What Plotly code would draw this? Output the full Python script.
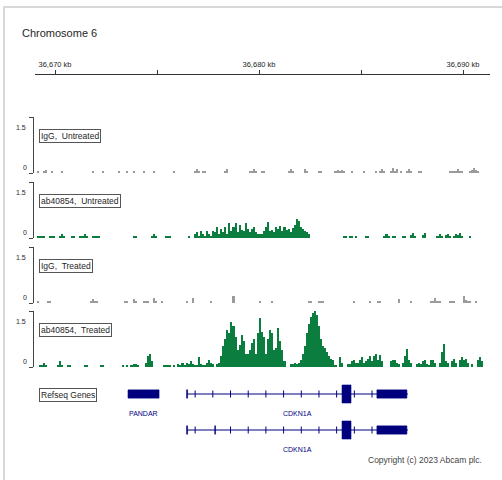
import numpy as np
import plotly.graph_objects as go

# ---------------- data ----------------
CHROM_TITLE = "Chromosome 6"
RULER_TICKS_KB = [36670, 36675, 36680, 36685, 36690]
RULER_LABELS = ["36,670 kb", "", "36,680 kb", "", "36,690 kb"]

TRACK_NAMES = ["IgG,\u00a0 Untreated", "ab40854,\u00a0 Untreated", "IgG,\u00a0 Treated", "ab40854,\u00a0 Treated"]
TRACK_MAX = 1.5
BIN_KB = 0.1  # coverage bin size (kb)

# coverage runs: start of run (kb) and per-bin values
IGG_UNTR_STARTS = [36669.1, 36669.4, 36669.8, 36670.3, 36671.8, 36672.3, 36673.1, 36673.5, 36673.8,
                   36674.3, 36674.8, 36675.8, 36676.8, 36677.2, 36678.3, 36679.5, 36680.1, 36681.4,
                   36682.2, 36682.9, 36683.7, 36684.5, 36685.1, 36685.7, 36685.9, 36686.4, 36686.9,
                   36687.2, 36687.8, 36689.3, 36689.6, 36689.9, 36690.3]
IGG_UNTR_VALS = [[0.05], [0.05, 0.08], [0.05], [0.05], [0.05], [0.05], [0.05], [0.05], [0.05],
                 [0.05], [0.05], [0.05], [0.05, 0.1, 0.05], [0.05, 0.05], [0.05, 0.11], [0.05, 0.06, 0.1, 0.05],
                 [0.05, 0.05], [0.05, 0.11, 0.05], [0.11, 0.05], [0.05, 0.05], [0.05, 0.08, 0.05, 0.08, 0.05],
                 [0.05], [0.05], [0.05], [0.05, 0.1, 0.05], [0.05, 0.13, 0.05, 0.1], [0.05],
                 [0.05, 0.1, 0.05], [0.05, 0.05], [0.05, 0.05, 0.05], [0.05, 0.1, 0.05],
                 [0.05], [0.05, 0.08, 0.13, 0.08, 0.05]]

AB_UNTR_STARTS = [36669.1, 36669.7, 36670.2, 36670.8, 36671.2, 36671.8, 36673.8, 36674.7, 36675.4,
                  36676.5, 36676.8, 36681.2, 36684.1, 36685.2, 36686.1, 36686.5, 36687.0, 36687.4,
                  36688.0, 36688.7, 36689.5, 36690.3]
AB_UNTR_VALS = [[0.06, 0.06, 0.06, 0.06], [0.06, 0.06, 0.06], [0.06, 0.12, 0.06], [0.06, 0.06],
                [0.06, 0.06, 0.12, 0.06], [0.06, 0.06, 0.06, 0.06], [0.06, 0.06], [0.05, 0.12, 0.05],
                [0.06, 0.06, 0.06], [0.06],
                [0.1, 0.15, 0.06, 0.2, 0.12, 0.06, 0.2, 0.1, 0.06, 0.2,
                 0.15, 0.3, 0.12, 0.25, 0.15, 0.3, 0.12,
                 0.4, 0.2, 0.3, 0.4, 0.15, 0.35, 0.22, 0.2, 0.4, 0.25, 0.15,
                 0.25, 0.3, 0.15, 0.1, 0.12, 0.1, 0.2, 0.3, 0.43, 0.2, 0.22, 0.15,
                 0.3, 0.25, 0.32, 0.2, 0.3, 0.12, 0.1,
                 0.08, 0.06, 0.08, 0.08, 0.06, 0.08],
                [0, 0.22, 0.25, 0.15, 0.28, 0.35, 0.5, 0.45, 0.3, 0.25, 0.2, 0.15, 0.12],
                [0.06, 0.06, 0, 0.06, 0.06, 0, 0.06], [0.06, 0.06], [0.06, 0.11, 0.06],
                [0.06, 0.06], [0.06, 0.06], [0.08, 0.13, 0.06], [0.08, 0.13],
                [0.06, 0.1, 0.06, 0, 0.08, 0.12, 0.06], [0.06, 0.12, 0.08, 0.13, 0.06], [0.06]]

IGG_TR_STARTS = [36669.1, 36669.6, 36671.7, 36673.4, 36673.8, 36674.3, 36674.8, 36675.2, 36676.4,
                 36676.7, 36677.6, 36678.7, 36680.0, 36680.6, 36682.4, 36682.9, 36684.6, 36685.4,
                 36685.8, 36686.8, 36687.4, 36688.4, 36689.3, 36690.0, 36690.6]
IGG_TR_VALS = [[0.05], [0.05, 0.05], [0.05, 0.1, 0.05, 0.05], [0.05, 0.05], [0.11, 0.05],
               [0.05, 0.05, 0.05], [0.13, 0.05], [0.05], [0.05], [0.13], [0.05], [0.18], [0.05],
               [0.05], [0.05, 0.05], [0.05, 0.05, 0.05], [0.05], [0.05], [0.05, 0.05], [0.11],
               [0.05], [0.05, 0.05, 0.13, 0.05, 0.05], [0.05, 0.05, 0.05], [0.2, 0.08, 0.05, 0.05],
               [0.05]]

AB_TR_STARTS = [36669.2, 36670.1, 36670.6, 36671.4, 36672.2, 36673.3, 36674.4, 36675.3, 36675.8,
                36678.1, 36681.5, 36684.3, 36686.4, 36687.0, 36687.7, 36688.8, 36689.4, 36689.8,
                36690.4, 36690.7]
AB_TR_VALS = [[0.05, 0.05, 0.11, 0.05], [0.05, 0.16, 0.05], [0.06, 0.06], [0.05, 0.05], [0.05, 0.05],
              [0.05, 0, 0.05, 0, 0.06, 0.08, 0.08, 0.06], [0.1, 0.3, 0.35, 0.15],
              [0.06, 0.06, 0.06, 0.05],
              [0.05, 0, 0.08, 0.05, 0.1, 0.05, 0.12, 0.08, 0.15, 0.08, 0.06, 0.05, 0.27, 0.08, 0.05,
               0.05, 0.12, 0.18, 0.1, 0.08, 0, 0.08, 0.1],
              [0.3, 0.55, 0.75, 1.0, 0.9, 1.2, 1.1, 0.8, 0.45, 0.6, 0.85, 0.7, 0.35, 0.35, 0.45, 0.65,
               0.75, 0.35, 0.9, 1.3, 0.95, 0.8, 0.35, 0.75, 1.0, 0.9, 0.45, 0.5, 1.05, 0.7, 0.45, 0.15],
              [0.08, 0.08, 0.1, 0.08, 0.12, 0.2, 0.35, 0.55, 0.9, 1.15, 1.35, 1.45, 1.5, 1.4, 1.1,
               0.75, 0.55, 0.5, 0.4, 0.3, 0.22, 0.2, 0.05, 0, 0.27, 0.12],
              [0.08, 0.08, 0.15, 0.18, 0.1, 0.1, 0.2, 0.28, 0.12, 0.15, 0.22, 0.3, 0.15, 0.3, 0.35,
               0.2, 0.32, 0.15],
              [0.15, 0.2, 0.18, 0.1, 0.08], [0.12, 0.3, 0.48, 0.2, 0.12],
              [0.08, 0.1, 0.08, 0.15, 0.18, 0.08, 0.05, 0.18, 0.2, 0.1],
              [0.12, 0.4, 0.62, 0.15, 0.12], [0.15, 0.22, 0.1], [0.2, 0.28, 0.18, 0.22, 0.12],
              [0.08], [0.18, 0.28, 0.15]]

# Refseq genes (kb)
GENE_NAMES = ["PANDAR", "CDKN1A", "CDKN1A"]
GENE_ROW = [0, 0, 1]
GENE_START = [36673.58, 36676.47, 36676.47]
GENE_END = [36675.10, 36687.30, 36687.30]
GENE_CODING = [[], [(36684.07, 36684.51)], [(36684.07, 36684.51)]]
GENE_UTR = [[(36673.58, 36675.10)],
            [(36676.45, 36676.50), (36685.78, 36687.25)],
            [(36676.45, 36676.50), (36677.83, 36677.87), (36685.78, 36687.25)]]
STRAND_MARK_KB = 0.867

COPYRIGHT = "Copyright (c) 2023 Abcam plc."

# ---------------- layout constants (pixels) ----------------
W, H = 502, 480
PX0, KB0, PX_PER_KB = 55.0, 36670.0, 20.4
def kb_at(px):
    return KB0 + (px - PX0) / PX_PER_KB
def fy(py):
    return 1 - py / H
def fx(px):
    return px / W

BASELINES = [173, 238, 303, 367]
TRACK_H = 56
COLORS = ["#9b9b9b", "#0b7d3f", "#9b9b9b", "#0b7d3f"]
NAVY = "#00007f"
FONT = "Liberation Sans, Arial, sans-serif"
TXT = "#262626"

fig = go.Figure()

track_data = [(IGG_UNTR_STARTS, IGG_UNTR_VALS), (AB_UNTR_STARTS, AB_UNTR_VALS),
              (IGG_TR_STARTS, IGG_TR_VALS), (AB_TR_STARTS, AB_TR_VALS)]

annotations = []
shapes = []
for k, (starts, vals) in enumerate(track_data):
    xs, ys = [], []
    for s, run in zip(starts, vals):
        for j, v in enumerate(run):
            if v > 0:
                xs.append(s + j * BIN_KB + BIN_KB / 2)
                ys.append(v)
    yname = "y" if k == 0 else f"y{k+1}"
    fig.add_trace(go.Bar(x=xs, y=ys, width=BIN_KB, xaxis="x", yaxis=yname,
                         marker=dict(color=COLORS[k], line=dict(width=0)),
                         showlegend=False, hoverinfo="skip"))
    b = BASELINES[k]
    axname = "yaxis" if k == 0 else f"yaxis{k+1}"
    fig.update_layout(**{axname: dict(
        domain=[fy(b), fy(b - TRACK_H)], range=[0, TRACK_MAX], anchor="free",
        position=fx(33), showline=True, linecolor="#444", linewidth=1,
        ticks="outside", ticklen=4, tickcolor="#444", tickwidth=1,
        tickvals=[0, TRACK_MAX], showticklabels=False, showgrid=False,
        zeroline=False, fixedrange=True)})
    annotations.append(dict(xref="paper", yref=yname, x=fx(28), y=TRACK_MAX, yshift=-10,
                            text="1.5", showarrow=False, xanchor="right", yanchor="middle",
                            font=dict(family=FONT, size=7, color=TXT)))
    annotations.append(dict(xref="paper", yref=yname, x=fx(29), y=0, yshift=6,
                            text="0", showarrow=False, xanchor="right", yanchor="middle",
                            font=dict(family=FONT, size=7, color=TXT)))
    annotations.append(dict(xref="paper", yref=yname, x=fx(39), y=TRACK_MAX, yshift=-19,
                            text=TRACK_NAMES[k], showarrow=False, xanchor="left", yanchor="middle",
                            bordercolor="#555", borderwidth=1, borderpad=1, bgcolor="white",
                            font=dict(family=FONT, size=8.5, color=TXT)))

# ruler axis
fig.add_trace(go.Scatter(x=[], y=[], xaxis="x2", yaxis="y", showlegend=False, hoverinfo="skip"))

# genes: y5 axis where rows are 0,1 (36 px apart)
ROW0_PX, ROW_PX = 394, 36
G_TOP, G_BOT = 378, 462
fig.add_trace(go.Scatter(x=[], y=[], xaxis="x", yaxis="y5", showlegend=False, hoverinfo="skip"))
for g in range(len(GENE_NAMES)):
    r = GENE_ROW[g]
    if GENE_END[g] - GENE_START[g] > 3:
        shapes.append(dict(type="line", xref="x", yref="y5", x0=GENE_START[g], x1=GENE_END[g],
                           y0=r, y1=r, line=dict(color=NAVY, width=1)))
        blocks = GENE_CODING[g] + GENE_UTR[g]
        marks = np.arange(GENE_START[g] + 0.4, GENE_END[g], STRAND_MARK_KB)
        marks = [m for m in marks if not any(a - 0.1 <= m <= bb + 0.1 for a, bb in blocks)]
        fig.add_trace(go.Scatter(x=marks, y=[r] * len(marks), xaxis="x", yaxis="y5", mode="markers",
                                 marker=dict(symbol="line-ns", size=5, line=dict(color=NAVY, width=1)),
                                 showlegend=False, hoverinfo="skip"))
    for a, bb in GENE_UTR[g]:
        shapes.append(dict(type="rect", xref="x", yref="y5", x0=a, x1=bb, y0=r - 0.115, y1=r + 0.115,
                           fillcolor=NAVY, line=dict(width=0.6, color=NAVY)))
    for a, bb in GENE_CODING[g]:
        shapes.append(dict(type="rect", xref="x", yref="y5", x0=a, x1=bb, y0=r - 0.25, y1=r + 0.25,
                           fillcolor=NAVY, line=dict(width=0.6, color=NAVY)))
    annotations.append(dict(xref="x", yref="y5", x=(GENE_START[g] + GENE_END[g]) / 2, y=r + 0.53,
                            text=GENE_NAMES[g], showarrow=False, xanchor="center", yanchor="middle",
                            font=dict(family=FONT, size=7, color=NAVY)))

annotations.append(dict(xref="paper", yref="paper", x=fx(39), y=fy(395), text="Refseq Genes",
                        showarrow=False, xanchor="left", yanchor="middle", bordercolor="#555",
                        borderwidth=1, borderpad=1, bgcolor="white",
                        font=dict(family=FONT, size=8.5, color=TXT)))
annotations.append(dict(xref="paper", yref="paper", x=fx(20), y=fy(33), text=CHROM_TITLE,
                        showarrow=False, xanchor="left", yanchor="middle",
                        font=dict(family=FONT, size=11, color=TXT)))
annotations.append(dict(xref="paper", yref="paper", x=fx(484), y=fy(460), text=COPYRIGHT,
                        showarrow=False, xanchor="right", yanchor="middle",
                        font=dict(family=FONT, size=8.5, color="#444")))

# frame
shapes.append(dict(type="line", xref="paper", yref="paper", x0=fx(3), x1=1, y0=fy(7), y1=fy(7),
                   line=dict(color="#d8d8d8", width=2)))
shapes.append(dict(type="line", xref="paper", yref="paper", x0=fx(4), x1=fx(4), y0=fy(7), y1=0,
                   line=dict(color="#d8d8d8", width=2)))

rows_range_bot = (G_BOT - ROW0_PX) / ROW_PX
rows_range_top = (G_TOP - ROW0_PX) / ROW_PX
fig.update_layout(
    width=W, height=H, margin=dict(l=0, r=0, t=0, b=0),
    paper_bgcolor="white", plot_bgcolor="rgba(0,0,0,0)",
    bargap=0, barmode="overlay",
    xaxis=dict(domain=[0, 1], range=[kb_at(0), kb_at(W)], visible=False, fixedrange=True),
    xaxis2=dict(domain=[fx(35), fx(490)], range=[kb_at(35), kb_at(490)], anchor="free",
                position=fy(74), side="top", showline=True, linecolor="#333", linewidth=1,
                ticks="outside", ticklen=4, tickcolor="#333", tickvals=RULER_TICKS_KB,
                ticktext=RULER_LABELS, tickfont=dict(family=FONT, size=7.5, color=TXT),
                showgrid=False, zeroline=False, fixedrange=True),
    yaxis5=dict(domain=[fy(G_BOT), fy(G_TOP)], range=[rows_range_bot, rows_range_top],
                visible=False, fixedrange=True),
    annotations=annotations, shapes=shapes,
)

fig.write_html("out.html")
